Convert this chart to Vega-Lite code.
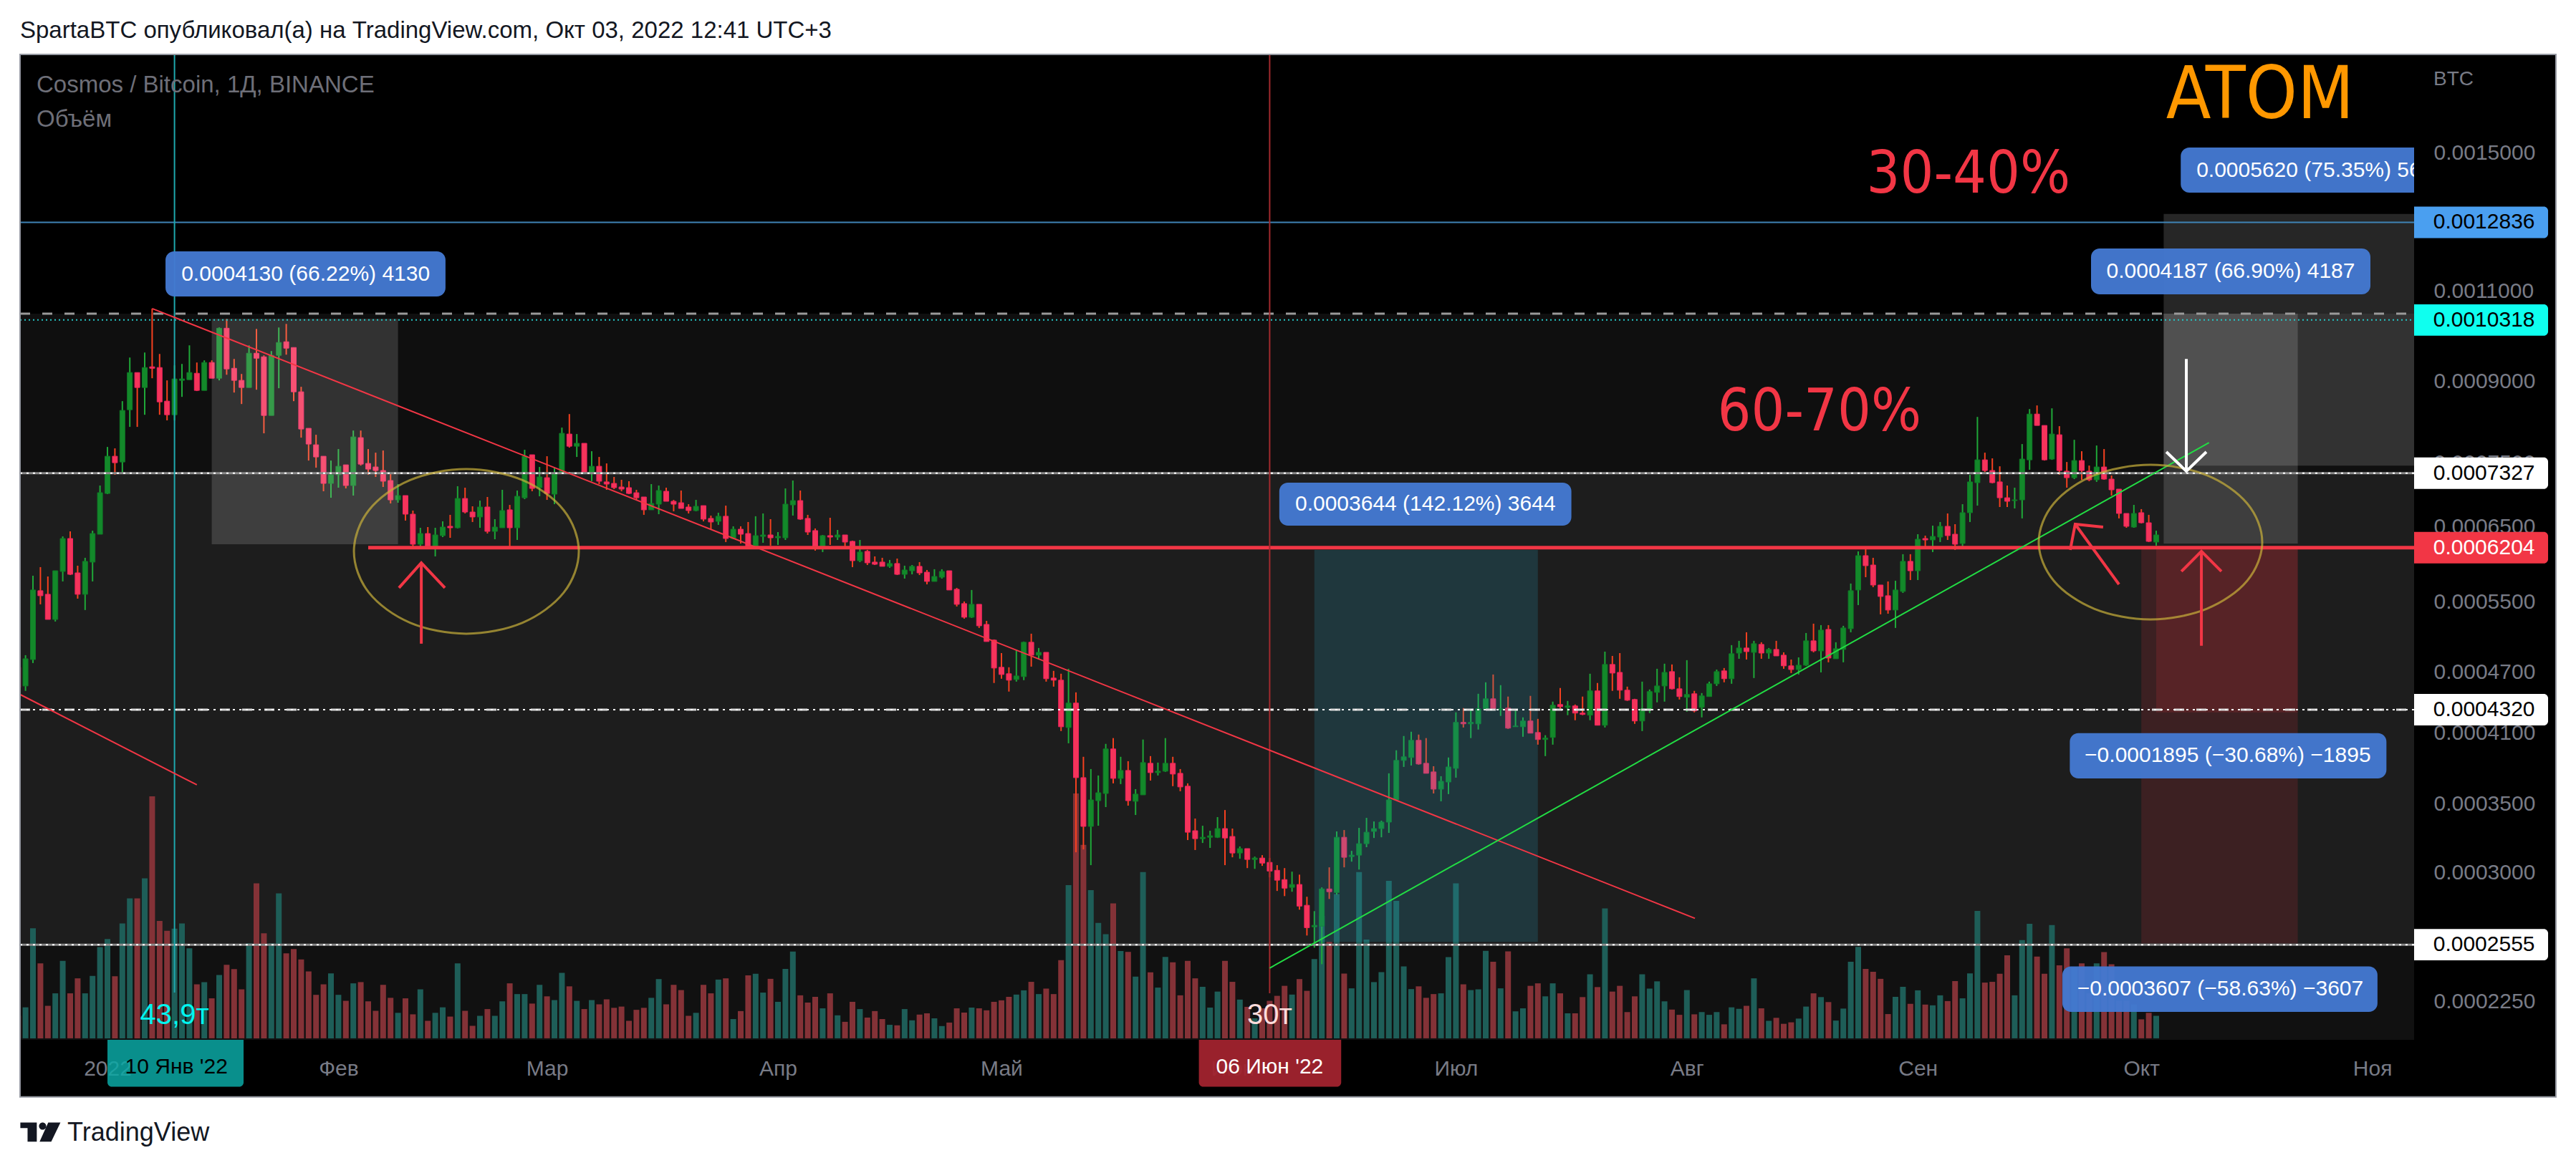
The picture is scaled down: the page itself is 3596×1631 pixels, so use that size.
{
"$schema":"https://vega.github.io/schema/vega-lite/v6.json",
"width":3342,"height":1376,
"autosize":{"type":"none"},
"padding":{"left":28,"top":76,"right":226,"bottom":179},
"background":"#000000",
"config":{"font":"Liberation Sans","view":{"stroke":null}},
"datasets":{"candles":[
{"d":"2021-12-20","o":4749,"h":4802,"l":4505,"c":4541,"v":9},
{"d":"2021-12-21","o":4555,"h":4879,"l":4505,"c":4840,"v":12.4},
{"d":"2021-12-22","o":4832,"h":5827,"l":4794,"c":5644,"v":44},
{"d":"2021-12-23","o":5635,"h":5940,"l":5466,"c":5572,"v":30},
{"d":"2021-12-24","o":5590,"h":5817,"l":5285,"c":5285,"v":13},
{"d":"2021-12-25","o":5285,"h":5892,"l":5260,"c":5892,"v":18},
{"d":"2021-12-26","o":5883,"h":6362,"l":5753,"c":6332,"v":31},
{"d":"2021-12-27","o":6332,"h":6434,"l":5836,"c":5845,"v":18},
{"d":"2021-12-28","o":5864,"h":5959,"l":5536,"c":5590,"v":24},
{"d":"2021-12-29","o":5590,"h":6065,"l":5397,"c":6017,"v":18},
{"d":"2021-12-30","o":6007,"h":6444,"l":5753,"c":6403,"v":25},
{"d":"2021-12-31","o":6393,"h":7128,"l":6393,"c":7015,"v":36.5},
{"d":"2022-01-01","o":7003,"h":7770,"l":6992,"c":7610,"v":39.7},
{"d":"2022-01-02","o":7610,"h":7745,"l":7301,"c":7501,"v":24.8},
{"d":"2022-01-03","o":7513,"h":8607,"l":7325,"c":8430,"v":46},
{"d":"2022-01-04","o":8443,"h":9488,"l":8126,"c":9175,"v":56},
{"d":"2022-01-05","o":9175,"h":9175,"l":8126,"c":8873,"v":56},
{"d":"2022-01-06","o":8873,"h":9595,"l":8349,"c":9278,"v":64},
{"d":"2022-01-07","o":9293,"h":10584,"l":9059,"c":9263,"v":96.8},
{"d":"2022-01-08","o":9278,"h":9564,"l":8349,"c":8593,"v":47},
{"d":"2022-01-09","o":8607,"h":9016,"l":8245,"c":8349,"v":43},
{"d":"2022-01-10","o":8349,"h":9323,"l":8245,"c":9045,"v":43.9},
{"d":"2022-01-11","o":9016,"h":9353,"l":8690,"c":9045,"v":46},
{"d":"2022-01-12","o":9030,"h":9750,"l":9030,"c":9175,"v":36},
{"d":"2022-01-13","o":9160,"h":9383,"l":8803,"c":8816,"v":21.6},
{"d":"2022-01-14","o":8816,"h":9428,"l":8816,"c":9383,"v":22.5},
{"d":"2022-01-15","o":9383,"h":9428,"l":9059,"c":9059,"v":16},
{"d":"2022-01-16","o":9059,"h":10147,"l":9016,"c":10130,"v":25.3},
{"d":"2022-01-17","o":10130,"h":10343,"l":9130,"c":9249,"v":29.4},
{"d":"2022-01-18","o":9263,"h":9458,"l":8774,"c":9016,"v":27.7},
{"d":"2022-01-19","o":9016,"h":9146,"l":8552,"c":8873,"v":19.6},
{"d":"2022-01-20","o":8873,"h":9750,"l":8873,"c":9580,"v":38},
{"d":"2022-01-21","o":9580,"h":10114,"l":8830,"c":9473,"v":62},
{"d":"2022-01-22","o":9503,"h":9534,"l":8010,"c":8336,"v":42},
{"d":"2022-01-23","o":8336,"h":9626,"l":8336,"c":9534,"v":38},
{"d":"2022-01-24","o":9534,"h":10147,"l":8859,"c":9812,"v":58},
{"d":"2022-01-25","o":9828,"h":10228,"l":9549,"c":9688,"v":34},
{"d":"2022-01-26","o":9703,"h":9703,"l":8607,"c":8788,"v":35.7},
{"d":"2022-01-27","o":8788,"h":8887,"l":7933,"c":8087,"v":31.6},
{"d":"2022-01-28","o":8100,"h":8100,"l":7537,"c":7820,"v":26.8},
{"d":"2022-01-29","o":7807,"h":7984,"l":7418,"c":7598,"v":17.4},
{"d":"2022-01-30","o":7610,"h":7610,"l":7037,"c":7162,"v":21.6},
{"d":"2022-01-31","o":7162,"h":7537,"l":6936,"c":7301,"v":26},
{"d":"2022-02-01","o":7301,"h":7733,"l":7094,"c":7441,"v":17.4},
{"d":"2022-02-02","o":7465,"h":7465,"l":7082,"c":7128,"v":15},
{"d":"2022-02-03","o":7128,"h":8060,"l":6970,"c":7946,"v":22},
{"d":"2022-02-04","o":7933,"h":8060,"l":7453,"c":7477,"v":22.5},
{"d":"2022-02-05","o":7489,"h":7733,"l":7301,"c":7394,"v":14.8},
{"d":"2022-02-06","o":7430,"h":7671,"l":7266,"c":7371,"v":11},
{"d":"2022-02-07","o":7371,"h":7708,"l":7105,"c":7197,"v":21.4},
{"d":"2022-02-08","o":7208,"h":7313,"l":6848,"c":6903,"v":16.2},
{"d":"2022-02-09","o":6903,"h":7151,"l":6859,"c":6970,"v":10.2},
{"d":"2022-02-10","o":6970,"h":6970,"l":6591,"c":6686,"v":16},
{"d":"2022-02-11","o":6686,"h":6740,"l":6222,"c":6252,"v":9.6},
{"d":"2022-02-12","o":6252,"h":6486,"l":6222,"c":6403,"v":19.6},
{"d":"2022-02-13","o":6403,"h":6496,"l":6212,"c":6222,"v":7},
{"d":"2022-02-14","o":6222,"h":6486,"l":6084,"c":6383,"v":10.2},
{"d":"2022-02-15","o":6373,"h":6580,"l":6352,"c":6496,"v":12.4},
{"d":"2022-02-16","o":6507,"h":6676,"l":6342,"c":6486,"v":8.7},
{"d":"2022-02-17","o":6486,"h":7117,"l":6476,"c":6925,"v":30},
{"d":"2022-02-18","o":6925,"h":7094,"l":6697,"c":6718,"v":11},
{"d":"2022-02-19","o":6718,"h":6805,"l":6570,"c":6644,"v":5},
{"d":"2022-02-20","o":6644,"h":6892,"l":6486,"c":6794,"v":9},
{"d":"2022-02-21","o":6794,"h":6948,"l":6403,"c":6434,"v":11.7},
{"d":"2022-02-22","o":6434,"h":6612,"l":6322,"c":6496,"v":9},
{"d":"2022-02-23","o":6486,"h":7060,"l":6486,"c":6740,"v":14.8},
{"d":"2022-02-24","o":6751,"h":6826,"l":6222,"c":6486,"v":22},
{"d":"2022-02-25","o":6486,"h":7049,"l":6312,"c":6959,"v":17.7},
{"d":"2022-02-26","o":6936,"h":7721,"l":6914,"c":7610,"v":17.7},
{"d":"2022-02-27","o":7635,"h":7635,"l":7037,"c":7082,"v":13.9},
{"d":"2022-02-28","o":7094,"h":7430,"l":6959,"c":7266,"v":21.4},
{"d":"2022-03-01","o":7254,"h":7610,"l":6903,"c":7003,"v":16.8},
{"d":"2022-03-02","o":6992,"h":7418,"l":6837,"c":7325,"v":15.3},
{"d":"2022-03-03","o":7325,"h":8113,"l":7325,"c":8010,"v":26.2},
{"d":"2022-03-04","o":7997,"h":8362,"l":7758,"c":7782,"v":20.8},
{"d":"2022-03-05","o":7782,"h":7997,"l":7598,"c":7833,"v":15},
{"d":"2022-03-06","o":7833,"h":7833,"l":7313,"c":7325,"v":11.7},
{"d":"2022-03-07","o":7325,"h":7696,"l":7197,"c":7441,"v":15.3},
{"d":"2022-03-08","o":7441,"h":7598,"l":7151,"c":7197,"v":13.6},
{"d":"2022-03-09","o":7186,"h":7489,"l":7060,"c":7151,"v":15.6},
{"d":"2022-03-10","o":7162,"h":7266,"l":7071,"c":7094,"v":12.2},
{"d":"2022-03-11","o":7105,"h":7220,"l":7037,"c":7071,"v":12.7},
{"d":"2022-03-12","o":7094,"h":7197,"l":6992,"c":7003,"v":7},
{"d":"2022-03-13","o":7014,"h":7060,"l":6903,"c":6936,"v":11.4},
{"d":"2022-03-14","o":6948,"h":6948,"l":6676,"c":6751,"v":12.2},
{"d":"2022-03-15","o":6751,"h":7151,"l":6751,"c":6848,"v":16.2},
{"d":"2022-03-16","o":6837,"h":7128,"l":6686,"c":7049,"v":23.7},
{"d":"2022-03-17","o":7037,"h":7094,"l":6881,"c":6881,"v":13.6},
{"d":"2022-03-18","o":6881,"h":6903,"l":6729,"c":6837,"v":21.4},
{"d":"2022-03-19","o":6859,"h":7049,"l":6772,"c":6772,"v":19.3},
{"d":"2022-03-20","o":6794,"h":6837,"l":6697,"c":6740,"v":9},
{"d":"2022-03-21","o":6740,"h":6903,"l":6729,"c":6805,"v":10.2},
{"d":"2022-03-22","o":6815,"h":6815,"l":6580,"c":6612,"v":21.4},
{"d":"2022-03-23","o":6623,"h":6665,"l":6465,"c":6570,"v":18},
{"d":"2022-03-24","o":6580,"h":6708,"l":6528,"c":6655,"v":23.5},
{"d":"2022-03-25","o":6655,"h":6815,"l":6282,"c":6332,"v":24},
{"d":"2022-03-26","o":6332,"h":6507,"l":6322,"c":6465,"v":7.7},
{"d":"2022-03-27","o":6465,"h":6507,"l":6262,"c":6393,"v":10.9},
{"d":"2022-03-28","o":6403,"h":6570,"l":6222,"c":6222,"v":25.2},
{"d":"2022-03-29","o":6222,"h":6655,"l":6222,"c":6373,"v":25.8},
{"d":"2022-03-30","o":6362,"h":6697,"l":6272,"c":6383,"v":18.3},
{"d":"2022-03-31","o":6383,"h":6612,"l":6232,"c":6342,"v":23.8},
{"d":"2022-04-01","o":6342,"h":6424,"l":6242,"c":6362,"v":14.6},
{"d":"2022-04-02","o":6342,"h":7082,"l":6312,"c":6837,"v":27.8},
{"d":"2022-04-03","o":6826,"h":7208,"l":6665,"c":6892,"v":34.7},
{"d":"2022-04-04","o":6892,"h":7049,"l":6602,"c":6612,"v":17.2},
{"d":"2022-04-05","o":6623,"h":6676,"l":6383,"c":6424,"v":14.3},
{"d":"2022-04-06","o":6445,"h":6476,"l":6163,"c":6202,"v":16.6},
{"d":"2022-04-07","o":6202,"h":6383,"l":6143,"c":6373,"v":12},
{"d":"2022-04-08","o":6373,"h":6633,"l":6242,"c":6352,"v":18},
{"d":"2022-04-09","o":6352,"h":6455,"l":6312,"c":6383,"v":9.2},
{"d":"2022-04-10","o":6383,"h":6383,"l":6212,"c":6282,"v":6.6},
{"d":"2022-04-11","o":6292,"h":6302,"l":5940,"c":6026,"v":14.6},
{"d":"2022-04-12","o":6026,"h":6312,"l":6007,"c":6143,"v":11.7},
{"d":"2022-04-13","o":6153,"h":6173,"l":5968,"c":5997,"v":8.3},
{"d":"2022-04-14","o":6007,"h":6084,"l":5968,"c":5978,"v":10.9},
{"d":"2022-04-15","o":6007,"h":6065,"l":5950,"c":5950,"v":7.7},
{"d":"2022-04-16","o":5950,"h":6036,"l":5931,"c":5988,"v":5.4},
{"d":"2022-04-17","o":5988,"h":6055,"l":5836,"c":5845,"v":5.2},
{"d":"2022-04-18","o":5845,"h":5959,"l":5790,"c":5902,"v":11.7},
{"d":"2022-04-19","o":5892,"h":5968,"l":5845,"c":5950,"v":7.2},
{"d":"2022-04-20","o":5950,"h":6007,"l":5836,"c":5864,"v":9.5},
{"d":"2022-04-21","o":5873,"h":5902,"l":5716,"c":5753,"v":10},
{"d":"2022-04-22","o":5753,"h":5912,"l":5753,"c":5817,"v":8},
{"d":"2022-04-23","o":5808,"h":5912,"l":5790,"c":5883,"v":4.9},
{"d":"2022-04-24","o":5892,"h":5892,"l":5644,"c":5644,"v":6.3},
{"d":"2022-04-25","o":5653,"h":5671,"l":5440,"c":5466,"v":12},
{"d":"2022-04-26","o":5475,"h":5501,"l":5294,"c":5311,"v":10.3},
{"d":"2022-04-27","o":5311,"h":5644,"l":5302,"c":5466,"v":12.3},
{"d":"2022-04-28","o":5466,"h":5466,"l":5185,"c":5210,"v":12},
{"d":"2022-04-29","o":5226,"h":5268,"l":5030,"c":5030,"v":11.2},
{"d":"2022-04-30","o":5046,"h":5054,"l":4585,"c":4741,"v":14.6},
{"d":"2022-05-01","o":4749,"h":4902,"l":4629,"c":4673,"v":15.2},
{"d":"2022-05-02","o":4681,"h":4749,"l":4498,"c":4614,"v":16.6},
{"d":"2022-05-03","o":4621,"h":4934,"l":4599,"c":4658,"v":17.5},
{"d":"2022-05-04","o":4651,"h":5030,"l":4614,"c":5022,"v":19.2},
{"d":"2022-05-05","o":5022,"h":5119,"l":4756,"c":4879,"v":22.6},
{"d":"2022-05-06","o":4879,"h":4958,"l":4832,"c":4910,"v":17.7},
{"d":"2022-05-07","o":4910,"h":4910,"l":4599,"c":4629,"v":19.9},
{"d":"2022-05-08","o":4636,"h":4711,"l":4548,"c":4614,"v":17.7},
{"d":"2022-05-09","o":4614,"h":4681,"l":4118,"c":4158,"v":31.3},
{"d":"2022-05-10","o":4151,"h":4733,"l":4007,"c":4384,"v":61.3},
{"d":"2022-05-11","o":4384,"h":4490,"l":3141,"c":3711,"v":98},
{"d":"2022-05-12","o":3711,"h":3888,"l":3161,"c":3328,"v":77.4},
{"d":"2022-05-13","o":3328,"h":3783,"l":3052,"c":3531,"v":59.3},
{"d":"2022-05-14","o":3525,"h":3729,"l":3333,"c":3588,"v":46.2},
{"d":"2022-05-15","o":3582,"h":4002,"l":3475,"c":3957,"v":41.7},
{"d":"2022-05-16","o":3957,"h":4054,"l":3664,"c":3705,"v":54},
{"d":"2022-05-17","o":3705,"h":3888,"l":3658,"c":3771,"v":34.9},
{"d":"2022-05-18","o":3771,"h":3850,"l":3486,"c":3525,"v":34.6},
{"d":"2022-05-19","o":3520,"h":3617,"l":3414,"c":3577,"v":24.7},
{"d":"2022-05-20","o":3571,"h":4041,"l":3571,"c":3838,"v":66.5},
{"d":"2022-05-21","o":3832,"h":3894,"l":3687,"c":3753,"v":26.4},
{"d":"2022-05-22","o":3753,"h":3838,"l":3729,"c":3765,"v":20.3},
{"d":"2022-05-23","o":3765,"h":4054,"l":3759,"c":3832,"v":32.6},
{"d":"2022-05-24","o":3832,"h":3888,"l":3641,"c":3741,"v":30.4},
{"d":"2022-05-25","o":3747,"h":3783,"l":3600,"c":3635,"v":17.2},
{"d":"2022-05-26","o":3641,"h":3664,"l":3228,"c":3285,"v":31},
{"d":"2022-05-27","o":3296,"h":3387,"l":3157,"c":3238,"v":24},
{"d":"2022-05-28","o":3238,"h":3333,"l":3207,"c":3248,"v":20.6},
{"d":"2022-05-29","o":3248,"h":3296,"l":3172,"c":3259,"v":12.3},
{"d":"2022-05-30","o":3248,"h":3398,"l":3243,"c":3312,"v":18.7},
{"d":"2022-05-31","o":3312,"h":3452,"l":3052,"c":3243,"v":31},
{"d":"2022-06-01","o":3254,"h":3312,"l":3106,"c":3136,"v":22.6},
{"d":"2022-06-02","o":3136,"h":3182,"l":3096,"c":3167,"v":15.5},
{"d":"2022-06-03","o":3167,"h":3167,"l":3032,"c":3091,"v":12.6},
{"d":"2022-06-04","o":3091,"h":3111,"l":3027,"c":3101,"v":8},
{"d":"2022-06-05","o":3101,"h":3121,"l":3047,"c":3066,"v":12},
{"d":"2022-06-06","o":3071,"h":3101,"l":2970,"c":3012,"v":15},
{"d":"2022-06-07","o":3017,"h":3052,"l":2881,"c":2951,"v":17},
{"d":"2022-06-08","o":2955,"h":3032,"l":2848,"c":2899,"v":21},
{"d":"2022-06-09","o":2904,"h":3008,"l":2876,"c":2923,"v":17.5},
{"d":"2022-06-10","o":2923,"h":2988,"l":2763,"c":2785,"v":23.7},
{"d":"2022-06-11","o":2790,"h":2844,"l":2608,"c":2654,"v":19},
{"d":"2022-06-12","o":2659,"h":2754,"l":2538,"c":2668,"v":31.7},
{"d":"2022-06-13","o":2663,"h":2904,"l":2446,"c":2894,"v":49},
{"d":"2022-06-14","o":2894,"h":3037,"l":2830,"c":2876,"v":38.6},
{"d":"2022-06-15","o":2871,"h":3291,"l":2857,"c":3248,"v":57.7},
{"d":"2022-06-16","o":3248,"h":3301,"l":3037,"c":3106,"v":25.9},
{"d":"2022-06-17","o":3111,"h":3151,"l":3076,"c":3121,"v":20},
{"d":"2022-06-18","o":3121,"h":3317,"l":3022,"c":3202,"v":66.5},
{"d":"2022-06-19","o":3202,"h":3392,"l":3177,"c":3285,"v":39.5},
{"d":"2022-06-20","o":3291,"h":3365,"l":3243,"c":3312,"v":22.5},
{"d":"2022-06-21","o":3312,"h":3371,"l":3248,"c":3360,"v":26.5},
{"d":"2022-06-22","o":3360,"h":3747,"l":3280,"c":3531,"v":63},
{"d":"2022-06-23","o":3531,"h":3945,"l":3525,"c":3857,"v":55},
{"d":"2022-06-24","o":3857,"h":4073,"l":3801,"c":3888,"v":28.8},
{"d":"2022-06-25","o":3882,"h":4112,"l":3813,"c":4034,"v":19.7},
{"d":"2022-06-26","o":4034,"h":4086,"l":3820,"c":3826,"v":20.8},
{"d":"2022-06-27","o":3832,"h":4054,"l":3747,"c":3747,"v":16.2},
{"d":"2022-06-28","o":3759,"h":3807,"l":3582,"c":3617,"v":17.7},
{"d":"2022-06-29","o":3617,"h":3723,"l":3520,"c":3681,"v":18},
{"d":"2022-06-30","o":3675,"h":3882,"l":3577,"c":3801,"v":32.5},
{"d":"2022-07-01","o":3789,"h":4294,"l":3711,"c":4199,"v":62},
{"d":"2022-07-02","o":4199,"h":4335,"l":4151,"c":4185,"v":21.6},
{"d":"2022-07-03","o":4185,"h":4321,"l":4054,"c":4199,"v":19.3},
{"d":"2022-07-04","o":4185,"h":4476,"l":4132,"c":4328,"v":19.6},
{"d":"2022-07-05","o":4328,"h":4592,"l":4328,"c":4426,"v":35},
{"d":"2022-07-06","o":4426,"h":4673,"l":4328,"c":4328,"v":30.6},
{"d":"2022-07-07","o":4321,"h":4563,"l":4260,"c":4328,"v":20},
{"d":"2022-07-08","o":4335,"h":4448,"l":4138,"c":4145,"v":34.8},
{"d":"2022-07-09","o":4158,"h":4328,"l":4158,"c":4165,"v":10.8},
{"d":"2022-07-10","o":4158,"h":4246,"l":4066,"c":4212,"v":12},
{"d":"2022-07-11","o":4212,"h":4455,"l":4099,"c":4099,"v":21},
{"d":"2022-07-12","o":4105,"h":4232,"l":3995,"c":4041,"v":22},
{"d":"2022-07-13","o":4041,"h":4080,"l":3894,"c":4054,"v":16.8},
{"d":"2022-07-14","o":4060,"h":4398,"l":3995,"c":4363,"v":22},
{"d":"2022-07-15","o":4370,"h":4534,"l":4328,"c":4349,"v":18},
{"d":"2022-07-16","o":4342,"h":4405,"l":4267,"c":4356,"v":10},
{"d":"2022-07-17","o":4356,"h":4370,"l":4219,"c":4287,"v":10},
{"d":"2022-07-18","o":4287,"h":4448,"l":4267,"c":4274,"v":16.5},
{"d":"2022-07-19","o":4267,"h":4681,"l":4219,"c":4505,"v":25.6},
{"d":"2022-07-20","o":4505,"h":4585,"l":4172,"c":4172,"v":20.5},
{"d":"2022-07-21","o":4172,"h":4918,"l":4151,"c":4779,"v":52},
{"d":"2022-07-22","o":4779,"h":4871,"l":4505,"c":4688,"v":18.7},
{"d":"2022-07-23","o":4695,"h":4902,"l":4426,"c":4512,"v":21},
{"d":"2022-07-24","o":4512,"h":4548,"l":4405,"c":4412,"v":10.5},
{"d":"2022-07-25","o":4419,"h":4426,"l":4185,"c":4212,"v":16.8},
{"d":"2022-07-26","o":4212,"h":4599,"l":4118,"c":4328,"v":25.6},
{"d":"2022-07-27","o":4328,"h":4519,"l":4287,"c":4498,"v":19.9},
{"d":"2022-07-28","o":4490,"h":4733,"l":4391,"c":4555,"v":22.8},
{"d":"2022-07-29","o":4555,"h":4787,"l":4398,"c":4695,"v":14.8},
{"d":"2022-07-30","o":4703,"h":4779,"l":4519,"c":4526,"v":11.5},
{"d":"2022-07-31","o":4526,"h":4644,"l":4419,"c":4448,"v":9.4},
{"d":"2022-08-01","o":4441,"h":4825,"l":4301,"c":4469,"v":19.3},
{"d":"2022-08-02","o":4476,"h":4505,"l":4294,"c":4308,"v":9.6},
{"d":"2022-08-03","o":4342,"h":4483,"l":4246,"c":4455,"v":10.5},
{"d":"2022-08-04","o":4448,"h":4599,"l":4448,"c":4577,"v":9.4},
{"d":"2022-08-05","o":4577,"h":4725,"l":4555,"c":4703,"v":10.5},
{"d":"2022-08-06","o":4711,"h":4741,"l":4592,"c":4629,"v":5.6},
{"d":"2022-08-07","o":4629,"h":4990,"l":4577,"c":4895,"v":12.4},
{"d":"2022-08-08","o":4902,"h":5038,"l":4840,"c":4958,"v":11.8},
{"d":"2022-08-09","o":4958,"h":5135,"l":4832,"c":4918,"v":13},
{"d":"2022-08-10","o":4910,"h":5038,"l":4636,"c":5006,"v":24},
{"d":"2022-08-11","o":4998,"h":5022,"l":4840,"c":4902,"v":12},
{"d":"2022-08-12","o":4902,"h":4958,"l":4840,"c":4942,"v":7},
{"d":"2022-08-13","o":4942,"h":5038,"l":4871,"c":4871,"v":8.2},
{"d":"2022-08-14","o":4879,"h":4910,"l":4733,"c":4764,"v":5.8},
{"d":"2022-08-15","o":4764,"h":4832,"l":4688,"c":4725,"v":6.4},
{"d":"2022-08-16","o":4725,"h":4855,"l":4673,"c":4771,"v":7.9},
{"d":"2022-08-17","o":4771,"h":5127,"l":4764,"c":5038,"v":12.7},
{"d":"2022-08-18","o":5038,"h":5235,"l":4910,"c":4926,"v":18},
{"d":"2022-08-19","o":4926,"h":5218,"l":4695,"c":5160,"v":16.5},
{"d":"2022-08-20","o":5168,"h":5218,"l":4802,"c":4848,"v":14.5},
{"d":"2022-08-21","o":4840,"h":5022,"l":4840,"c":4950,"v":7.1},
{"d":"2022-08-22","o":4942,"h":5210,"l":4802,"c":5185,"v":11.9},
{"d":"2022-08-23","o":5177,"h":5726,"l":5135,"c":5635,"v":30.6},
{"d":"2022-08-24","o":5644,"h":6153,"l":5457,"c":6094,"v":36.6},
{"d":"2022-08-25","o":6094,"h":6183,"l":5808,"c":5959,"v":27.8},
{"d":"2022-08-26","o":5968,"h":6065,"l":5680,"c":5707,"v":26.6},
{"d":"2022-08-27","o":5707,"h":5707,"l":5345,"c":5563,"v":23.8},
{"d":"2022-08-28","o":5572,"h":5753,"l":5353,"c":5397,"v":9.7},
{"d":"2022-08-29","o":5397,"h":5762,"l":5185,"c":5644,"v":16.6},
{"d":"2022-08-30","o":5626,"h":6114,"l":5608,"c":6017,"v":20.6},
{"d":"2022-08-31","o":6017,"h":6114,"l":5771,"c":5892,"v":13.8},
{"d":"2022-09-01","o":5892,"h":6393,"l":5771,"c":6322,"v":19.2},
{"d":"2022-09-02","o":6332,"h":6373,"l":6183,"c":6312,"v":13.5},
{"d":"2022-09-03","o":6312,"h":6517,"l":6143,"c":6362,"v":13.2},
{"d":"2022-09-04","o":6352,"h":6570,"l":6282,"c":6507,"v":17.2},
{"d":"2022-09-05","o":6507,"h":6697,"l":6312,"c":6373,"v":14.9},
{"d":"2022-09-06","o":6393,"h":6538,"l":6173,"c":6252,"v":22.9},
{"d":"2022-09-07","o":6262,"h":6837,"l":6222,"c":6708,"v":16},
{"d":"2022-09-08","o":6708,"h":7301,"l":6570,"c":7186,"v":26},
{"d":"2022-09-09","o":7174,"h":8309,"l":6815,"c":7549,"v":51},
{"d":"2022-09-10","o":7549,"h":7671,"l":7348,"c":7371,"v":22.3},
{"d":"2022-09-11","o":7371,"h":7574,"l":7162,"c":7174,"v":22.6},
{"d":"2022-09-12","o":7186,"h":7441,"l":6794,"c":6936,"v":25.8},
{"d":"2022-09-13","o":6936,"h":7128,"l":6794,"c":6881,"v":33.2},
{"d":"2022-09-14","o":6892,"h":7094,"l":6772,"c":6903,"v":17.2},
{"d":"2022-09-15","o":6903,"h":7820,"l":6623,"c":7562,"v":39.3},
{"d":"2022-09-16","o":7549,"h":8456,"l":7383,"c":8362,"v":45.8},
{"d":"2022-09-17","o":8362,"h":8525,"l":8152,"c":8152,"v":32.7},
{"d":"2022-09-18","o":8152,"h":8152,"l":7537,"c":7549,"v":25.8},
{"d":"2022-09-19","o":7562,"h":8470,"l":7549,"c":7997,"v":45.3},
{"d":"2022-09-20","o":7984,"h":8139,"l":7301,"c":7371,"v":29.2},
{"d":"2022-09-21","o":7360,"h":7513,"l":7094,"c":7254,"v":36},
{"d":"2022-09-22","o":7254,"h":7895,"l":7231,"c":7537,"v":28.3},
{"d":"2022-09-23","o":7537,"h":7696,"l":7220,"c":7371,"v":30},
{"d":"2022-09-24","o":7360,"h":7453,"l":7197,"c":7220,"v":18},
{"d":"2022-09-25","o":7220,"h":7795,"l":7186,"c":7430,"v":30},
{"d":"2022-09-26","o":7430,"h":7733,"l":7220,"c":7231,"v":34.5},
{"d":"2022-09-27","o":7231,"h":7289,"l":6970,"c":7060,"v":29.6},
{"d":"2022-09-28","o":7071,"h":7071,"l":6623,"c":6697,"v":15},
{"d":"2022-09-29","o":6697,"h":6697,"l":6486,"c":6507,"v":15},
{"d":"2022-09-30","o":6496,"h":6826,"l":6486,"c":6697,"v":13.6},
{"d":"2022-10-01","o":6708,"h":6762,"l":6549,"c":6559,"v":7.6},
{"d":"2022-10-02","o":6559,"h":6676,"l":6282,"c":6292,"v":10.2},
{"d":"2022-10-03","o":6282,"h":6444,"l":6232,"c":6383,"v":9}
]},
"encoding":{"x":{"field":"d","type":"temporal","title":null,
 "scale":{"type":"utc","domain":["2021-12-20T06:27:00Z","2022-11-06T14:46:00Z"],"nice":false,"padding":0},
 "axis":{"orient":"bottom","values":[1640995200000,1643673600000,1646092800000,1648771200000,1651363200000,1654041600000,1656633600000,1659312000000,1661990400000,1664582400000,1667260800000],
  "labelExpr":"['2022','Фев','Мар','Апр','Май','Июн','Июл','Авг','Сен','Окт','Ноя'][utcmonth(datum.value)]",
  "labelFontSize":30,"labelColor":"#787b86","labelPadding":40,"labelBaseline":"middle","labelOverlap":false,"labelFlush":false,"labelBound":false,"ticks":false,"domain":false,"grid":false}}},
"resolve":{"scale":{"y":"independent"}},
"layer":[
 {"encoding":{"y":{"field":"p","type":"quantitative","title":null,
   "scale":{"type":"log","domain":[2065.8,18677],"nice":false},
   "axis":{"orient":"right","values":[15000,11000,9000,7500,6500,5500,4700,4100,3500,3000,2250],"labelExpr":"format(datum.value/1e7,'.7f')","labelFontSize":30,"labelColor":"#787b86","labelPadding":27,"labelAlign":"left","labelOverlap":false,"labelFlush":false,"labelBound":false,"ticks":false,"domain":false,"grid":false}},
   "x2":{"field":"e"},"y2":{"field":"q"}},
  "layer":[
  {"data":{"values":[{"d":"2021-12-20T06:27:00Z","e":"2022-11-06T14:46:00Z","p":10465,"q":7327}]},"mark":{"type":"rect","color":"#0f0f0f"}},
  {"data":{"values":[{"d":"2021-12-20T06:27:00Z","e":"2022-11-06T14:46:00Z","p":7327,"q":2555}]},"mark":{"type":"rect","color":"#1d1d1d"}},
  {"data":{"values":[{"d":"2021-12-20T06:27:00Z","e":"2022-11-06T14:46:00Z","p":2555,"q":2065.8}]},"mark":{"type":"rect","color":"#111111"}}
 ]},
 {"data":{"name":"candles"},"mark":{"type":"bar","size":8},
  "encoding":{"y":{"field":"v","type":"quantitative","stack":null,"axis":null,"scale":{"domain":[-0.6,393.7],"nice":false,"zero":false}},
   "color":{"condition":{"test":"datum.c>=datum.o","value":"#1e5e58"},"value":"#843237"}}},
 {"encoding":{"y":{"field":"p","type":"quantitative","axis":null,"scale":{"type":"log","domain":[2065.8,18677],"nice":false}}},
  "layer":[
  {"data":{"name":"candles"},"mark":{"type":"rule","size":2},
   "encoding":{"y":{"field":"h","type":"quantitative","axis":null,"scale":{"type":"log","domain":[2065.8,18677],"nice":false}},"y2":{"field":"l"},
    "color":{"condition":{"test":"datum.c>=datum.o","value":"#1fa838"},"value":"#f5401f"}}},
  {"data":{"name":"candles"},"mark":{"type":"bar","size":7,"strokeWidth":1},
   "encoding":{"y":{"field":"o","type":"quantitative","axis":null,"scale":{"type":"log","domain":[2065.8,18677],"nice":false}},"y2":{"field":"c"},
    "color":{"condition":{"test":"datum.c>=datum.o","value":"#13892a"},"value":"#f5345a"},
    "stroke":{"condition":{"test":"datum.c>=datum.o","value":"#0f7c27"},"value":"#ef2260"}}},

  {"data":{"values":[
    {"d":"2022-01-15","e":"2022-02-09","p":10343,"q":6252},
    {"d":"2022-10-04","e":"2022-11-06T14:46:00Z","p":13077,"q":7453},
    {"d":"2022-10-04","e":"2022-10-22","p":10465,"q":6262}]},
   "mark":{"type":"rect","color":"#ffffff","opacity":0.15},"encoding":{"x2":{"field":"e"},"y2":{"field":"q"}}},
  {"data":{"values":[{"d":"2022-06-12","e":"2022-07-12","p":6173,"q":2571}]},
   "mark":{"type":"rect","color":"#2a9fc0","opacity":0.2},"encoding":{"x2":{"field":"e"},"y2":{"field":"q"}}},
  {"data":{"values":[
    {"d":"2022-10-01","e":"2022-10-22","p":6204,"q":2562},
    {"d":"2022-10-03","e":"2022-10-22","p":6204,"q":4294}]},
   "mark":{"type":"rect","color":"#f23645","opacity":0.15},"encoding":{"x2":{"field":"e"},"y2":{"field":"q"}}},

  {"data":{"values":[{"d":"2021-12-20T06:27:00Z","e":"2022-11-06T14:46:00Z","p":12836}]},
   "mark":{"type":"rule","color":"#3f83b5","size":2},"encoding":{"x2":{"field":"e"}}},
  {"data":{"values":[{"d":"2021-12-20T06:27:00Z","e":"2022-11-06T14:46:00Z","p":10465}]},
   "mark":{"type":"rule","color":"#9a9a9a","size":3,"strokeDash":[14,17]},"encoding":{"x2":{"field":"e"}}},
  {"data":{"values":[{"d":"2021-12-20T06:27:00Z","e":"2022-11-06T14:46:00Z","p":10318}]},
   "mark":{"type":"rule","color":"#26c6c6","size":2,"strokeDash":[2,4]},"encoding":{"x2":{"field":"e"}}},
  {"data":{"values":[{"d":"2021-12-20T06:27:00Z","e":"2022-11-06T14:46:00Z","p":7327},{"d":"2021-12-20T06:27:00Z","e":"2022-11-06T14:46:00Z","p":2555}]},
   "mark":{"type":"rule","color":"#8c8c8c","size":3},"encoding":{"x2":{"field":"e"}}},
  {"data":{"values":[{"d":"2021-12-20T06:27:00Z","e":"2022-11-06T14:46:00Z","p":4320}]},
   "mark":{"type":"rule","color":"#d8d8d8","size":3,"strokeDash":[14,17]},"encoding":{"x2":{"field":"e"}}},
  {"data":{"values":[{"d":"2021-12-20T06:27:00Z","e":"2022-11-06T14:46:00Z","p":7327},{"d":"2021-12-20T06:27:00Z","e":"2022-11-06T14:46:00Z","p":4320},{"d":"2021-12-20T06:27:00Z","e":"2022-11-06T14:46:00Z","p":2555}]},
   "mark":{"type":"rule","color":"#ffffff","size":2,"strokeDash":[3,6]},"encoding":{"x2":{"field":"e"}}},
  {"data":{"values":[{"d":"2022-02-05","e":"2022-11-06T14:46:00Z","p":6204}]},
   "mark":{"type":"rule","color":"#f23645","size":5},"encoding":{"x2":{"field":"e"}}},
  {"data":{"values":[{"d":"2022-01-10","p":18677,"q":2296}]},
   "mark":{"type":"rule","color":"#1ea8ad","size":2},"encoding":{"y2":{"field":"q"}}},
  {"data":{"values":[{"d":"2022-06-06","p":18677,"q":2292}]},
   "mark":{"type":"rule","color":"#a32a2e","size":2},"encoding":{"y2":{"field":"q"}}},

  {"data":{"values":[
    {"id":"a","n":1,"d":"2022-01-07","p":10584},{"id":"a","n":2,"d":"2022-08-02T02:00:00Z","p":2710},
    {"id":"b","n":1,"d":"2021-12-20T06:27:00Z","p":4469},{"id":"b","n":2,"d":"2022-01-13","p":3652}]},
   "mark":{"type":"line","color":"#f23645","strokeWidth":2},"encoding":{"detail":{"field":"id"},"order":{"field":"n"}}},
  {"data":{"values":[{"n":1,"d":"2022-06-06","p":2425},{"n":2,"d":"2022-10-10T02:00:00Z","p":7845}]},
   "mark":{"type":"line","color":"#22dd44","strokeWidth":2},"encoding":{"order":{"field":"n"}}},
  {"data":{"values":[
    {"id":"l","n":1,"d":"2022-03-05T06:30:00Z","p":6153},{"id":"l","n":2,"d":"2022-03-03T06:00:00Z","p":5612},{"id":"l","n":3,"d":"2022-02-25T17:00:00Z","p":5246},{"id":"l","n":4,"d":"2022-02-18T04:00:00Z","p":5119},{"id":"l","n":5,"d":"2022-02-10T15:00:00Z","p":5246},{"id":"l","n":6,"d":"2022-02-05T02:00:00Z","p":5612},{"id":"l","n":7,"d":"2022-02-03T02:00:00Z","p":6153},{"id":"l","n":8,"d":"2022-02-05T02:00:00Z","p":6745},{"id":"l","n":9,"d":"2022-02-10T15:00:00Z","p":7215},{"id":"l","n":10,"d":"2022-02-18T04:00:00Z","p":7394},{"id":"l","n":11,"d":"2022-02-25T17:00:00Z","p":7215},{"id":"l","n":12,"d":"2022-03-03T06:00:00Z","p":6745},
    {"id":"r","n":1,"d":"2022-10-17T05:30:00Z","p":6282},{"id":"r","n":2,"d":"2022-10-15T05:00:00Z","p":5762},{"id":"r","n":3,"d":"2022-10-09T17:30:00Z","p":5410},{"id":"r","n":4,"d":"2022-10-02T05:30:00Z","p":5285},{"id":"r","n":5,"d":"2022-09-24T17:30:00Z","p":5410},{"id":"r","n":6,"d":"2022-09-19T06:00:00Z","p":5762},{"id":"r","n":7,"d":"2022-09-17T05:30:00Z","p":6282},{"id":"r","n":8,"d":"2022-09-19T06:00:00Z","p":6848},{"id":"r","n":9,"d":"2022-09-24T17:30:00Z","p":7296},{"id":"r","n":10,"d":"2022-10-02T05:30:00Z","p":7465},{"id":"r","n":11,"d":"2022-10-09T17:30:00Z","p":7296},{"id":"r","n":12,"d":"2022-10-15T05:00:00Z","p":6848}]},
   "mark":{"type":"line","color":"#c9b13a","opacity":0.7,"strokeWidth":3,"interpolate":"cardinal-closed"},"encoding":{"detail":{"field":"id"},"order":{"field":"n"}}},
  {"data":{"values":[
    {"id":"s1","n":1,"d":"2022-02-12T03:00:00Z","p":5006},{"id":"s1","n":2,"d":"2022-02-12T03:00:00Z","p":5997},
    {"id":"h1","n":1,"d":"2022-02-09T03:00:00Z","p":5671},{"id":"h1","n":2,"d":"2022-02-12T03:00:00Z","p":5997},{"id":"h1","n":3,"d":"2022-02-15T07:00:00Z","p":5671},
    {"id":"s2","n":1,"d":"2022-10-09T01:30:00Z","p":4982},{"id":"s2","n":2,"d":"2022-10-09T01:30:00Z","p":6153},
    {"id":"h2","n":1,"d":"2022-10-06T09:00:00Z","p":5883},{"id":"h2","n":2,"d":"2022-10-09T01:30:00Z","p":6153},{"id":"h2","n":3,"d":"2022-10-11T18:00:00Z","p":5883},
    {"id":"s3","n":1,"d":"2022-09-28","p":5716},{"id":"s3","n":2,"d":"2022-09-22T03:00:00Z","p":6538},
    {"id":"h3","n":1,"d":"2022-09-21T11:00:00Z","p":6173},{"id":"h3","n":2,"d":"2022-09-22T03:00:00Z","p":6538},{"id":"h3","n":3,"d":"2022-09-25T21:00:00Z","p":6496}]},
   "mark":{"type":"line","color":"#f23645","strokeWidth":4},"encoding":{"detail":{"field":"id"},"order":{"field":"n"}}},
  {"data":{"values":[
    {"id":"s","n":1,"d":"2022-10-07T01:00:00Z","p":9458},{"id":"s","n":2,"d":"2022-10-07T01:00:00Z","p":7360},
    {"id":"h","n":1,"d":"2022-10-04T08:30:00Z","p":7684},{"id":"h","n":2,"d":"2022-10-07T01:00:00Z","p":7360},{"id":"h","n":3,"d":"2022-10-09T17:30:00Z","p":7684}]},
   "mark":{"type":"line","color":"#ffffff","strokeWidth":4},"encoding":{"detail":{"field":"id"},"order":{"field":"n"}}},

  {"data":{"values":[
    {"d":"2022-01-08T19:00:00Z","e":"2022-02-15T09:00:00Z","p":12029,"q":10875},
    {"d":"2022-06-07T07:00:00Z","e":"2022-07-16T12:00:00Z","p":7174,"q":6517},
    {"d":"2022-10-06T07:00:00Z","e":"2022-11-09","p":15169,"q":13714},
    {"d":"2022-09-24T06:00:00Z","e":"2022-10-31T18:00:00Z","p":12105,"q":10928},
    {"d":"2022-09-21T09:36:00Z","e":"2022-11-02T21:36:00Z","p":4099,"q":3705},
    {"d":"2022-09-20T09:36:00Z","e":"2022-11-01T16:48:00Z","p":2434,"q":2199}]},
   "mark":{"type":"rect","color":"#4479d1","opacity":0.96,"cornerRadius":12,"clip":true},"encoding":{"x2":{"field":"e"},"y2":{"field":"q"}}},
  {"data":{"values":[
    {"d":"2022-01-27T14:24:00Z","p":11437,"t":"0.0004130 (66.22%) 4130"},
    {"d":"2022-06-26T21:36:00Z","p":6837,"t":"0.0003644 (142.12%) 3644"},
    {"d":"2022-10-13","p":11501,"t":"0.0004187 (66.90%) 4187"},
    {"d":"2022-10-12T14:24:00Z","p":3897,"t":"−0.0001895 (−30.68%) −1895"},
    {"d":"2022-10-11T14:24:00Z","p":2315,"t":"−0.0003607 (−58.63%) −3607"}]},
   "mark":{"type":"text","color":"#ffffff","fontSize":30,"align":"center","baseline":"middle"},"encoding":{"text":{"field":"t"}}},
  {"data":{"values":[{"d":"2022-10-08T09:36:00Z","p":14423,"t":"0.0005620 (75.35%) 5620"}]},
   "mark":{"type":"text","color":"#ffffff","fontSize":30,"align":"left","baseline":"middle","clip":true},"encoding":{"text":{"field":"t"}}},

  {"data":{"values":[{"d":"2022-09-07T19:00:00Z","p":14274,"t":"30-40%"},{"d":"2022-08-18T19:00:00Z","p":8390,"t":"60-70%"}]},
   "mark":{"type":"text","color":"#f23645","font":"DejaVu Sans Condensed, Liberation Sans","fontSize":82,"align":"center","baseline":"middle"},"encoding":{"text":{"field":"t"}}},
  {"data":{"values":[{"d":"2022-10-16T22:30:00Z","p":17020,"t":"ATOM"}]},
   "mark":{"type":"text","color":"#ff9800","font":"DejaVu Sans Condensed, Liberation Sans","fontSize":102,"align":"center","baseline":"middle"},"encoding":{"text":{"field":"t"}}},
  {"data":{"values":[{"d":"2021-12-22T11:30:00Z","p":17435,"t":"Cosmos / Bitcoin, 1Д, BINANCE"},{"d":"2021-12-22T11:30:00Z","p":16146,"t":"Объём"}]},
   "mark":{"type":"text","color":"#6e6f78","fontSize":33,"align":"left","baseline":"middle"},"encoding":{"text":{"field":"t"}}},
  {"data":{"values":[{"d":"2022-01-10","p":2181,"t":"43,9т"}]},
   "mark":{"type":"text","color":"#00f5f0","fontSize":40,"align":"center","baseline":"middle"},"encoding":{"text":{"field":"t"}}},
  {"data":{"values":[{"d":"2022-06-06","p":2181,"t":"30т"}]},
   "mark":{"type":"text","color":"#ffdcdc","fontSize":40,"align":"center","baseline":"middle"},"encoding":{"text":{"field":"t"}}},

  {"data":{"values":[{"d":"2022-01-01","e":"2022-01-19T06:30:00Z","p":2065.8,"q":1860}]},
   "mark":{"type":"rect","color":"#0aa8a4","opacity":0.85,"cornerRadiusBottomLeft":6,"cornerRadiusBottomRight":6},"encoding":{"x2":{"field":"e"},"y2":{"field":"q"}}},
  {"data":{"values":[{"d":"2022-05-27T12:00:00Z","e":"2022-06-15T14:24:00Z","p":2065.8,"q":1860}]},
   "mark":{"type":"rect","color":"#a1232e","opacity":0.95,"cornerRadiusBottomLeft":6,"cornerRadiusBottomRight":6},"encoding":{"x2":{"field":"e"},"y2":{"field":"q"}}},
  {"data":{"values":[{"d":"2022-01-10T06:00:00Z","p":1944,"t":"10 Янв '22"}]},
   "mark":{"type":"text","color":"#000000","fontSize":30,"align":"center","baseline":"middle"},"encoding":{"text":{"field":"t"}}},
  {"data":{"values":[{"d":"2022-06-06","p":1944,"t":"06 Июн '22"}]},
   "mark":{"type":"text","color":"#ffffff","fontSize":30,"align":"center","baseline":"middle"},"encoding":{"text":{"field":"t"}}},
  {"data":{"values":[{"d":"2022-11-09T05:00:00Z","p":17660,"t":"BTC"}]},
   "mark":{"type":"text","color":"#787b86","fontSize":28,"align":"left","baseline":"middle"},"encoding":{"text":{"field":"t"}}},

  {"data":{"values":[
    {"d":"2022-11-06T14:46:00Z","e":"2022-11-24T14:24:00Z","p":13296,"q":12392,"t":"0.0012836"},
    {"d":"2022-11-06T14:46:00Z","e":"2022-11-24T14:24:00Z","p":10687,"q":9961,"t":"0.0010318"},
    {"d":"2022-11-06T14:46:00Z","e":"2022-11-24T14:24:00Z","p":7589,"q":7074,"t":"0.0007327"},
    {"d":"2022-11-06T14:46:00Z","e":"2022-11-24T14:24:00Z","p":6426,"q":5990,"t":"0.0006204"},
    {"d":"2022-11-06T14:46:00Z","e":"2022-11-24T14:24:00Z","p":4475,"q":4171,"t":"0.0004320"},
    {"d":"2022-11-06T14:46:00Z","e":"2022-11-24T14:24:00Z","p":2646,"q":2467,"t":"0.0002555"}]},
   "mark":{"type":"rect","cornerRadiusTopRight":6,"cornerRadiusBottomRight":6},
   "encoding":{"x2":{"field":"e"},"y2":{"field":"q"},
    "color":{"field":"t","type":"nominal","legend":null,"scale":{"domain":["0.0012836","0.0010318","0.0007327","0.0006204","0.0004320","0.0002555"],"range":["#4a9ff0","#0fffef","#ffffff","#f23645","#ffffff","#ffffff"]}}}},
  {"data":{"values":[
    {"d":"2022-11-16","p":12836,"t":"0.0012836"},{"d":"2022-11-16","p":10318,"t":"0.0010318"},{"d":"2022-11-16","p":7327,"t":"0.0007327"},{"d":"2022-11-16","p":4320,"t":"0.0004320"},{"d":"2022-11-16","p":2555,"t":"0.0002555"}]},
   "mark":{"type":"text","color":"#000000","fontSize":30,"align":"center","baseline":"middle"},"encoding":{"text":{"field":"t"}}},
  {"data":{"values":[{"d":"2022-11-16","p":6204,"t":"0.0006204"}]},
   "mark":{"type":"text","color":"#ffffff","fontSize":30,"align":"center","baseline":"middle"},"encoding":{"text":{"field":"t"}}},

  {"data":{"values":[
    {"d":"2021-11-01","e":"2023-03-01","p":40000,"q":18677},
    {"d":"2021-11-01","e":"2023-03-01","p":1818,"q":1000},
    {"d":"2021-11-01","e":"2021-12-20T06:27:00Z","p":40000,"q":1000},
    {"d":"2022-11-25T15:36:00Z","e":"2023-03-01","p":40000,"q":1000}]},
   "mark":{"type":"rect","color":"#ffffff"},"encoding":{"x2":{"field":"e"},"y2":{"field":"q"}}},
  {"data":{"values":[{"d":"2021-12-20T06:27:00Z","e":"2022-11-25T15:36:00Z","p":18677,"q":1818}]},
   "mark":{"type":"rect","fillOpacity":0,"stroke":"#9598a1","strokeWidth":2},"encoding":{"x2":{"field":"e"},"y2":{"field":"q"}}},
  {"data":{"values":[{"d":"2021-12-20T06:27:00Z","p":19689,"t":"SpartaBTC опубликовал(а) на TradingView.com, Окт 03, 2022 12:41 UTC+3"}]},
   "mark":{"type":"text","color":"#131722","fontSize":33,"align":"left","baseline":"middle"},"encoding":{"text":{"field":"t"}}},
  {"data":{"values":[{"d":"2021-12-26T15:00:00Z","p":1678,"t":"TradingView"}]},
   "mark":{"type":"text","color":"#131722","fontSize":36,"align":"left","baseline":"middle"},"encoding":{"text":{"field":"t"}}},
  {"data":{"values":[{"d":"2021-12-23","p":1681}]},
   "mark":{"type":"point","filled":true,"opacity":1,"color":"#131722","size":3136,"shape":"M-1,-.48 L-.18,-.48 L-.18,.48 L-.64,.48 L-.64,-.2 L-1,-.2 Z M-.07,-.3 A.18,.18 0 1 0 .29,-.3 A.18,.18 0 1 0 -.07,-.3 Z M.39,-.48 L1,-.48 L.54,.48 L-.04,.48 Z"}}
 ]}
]
}
